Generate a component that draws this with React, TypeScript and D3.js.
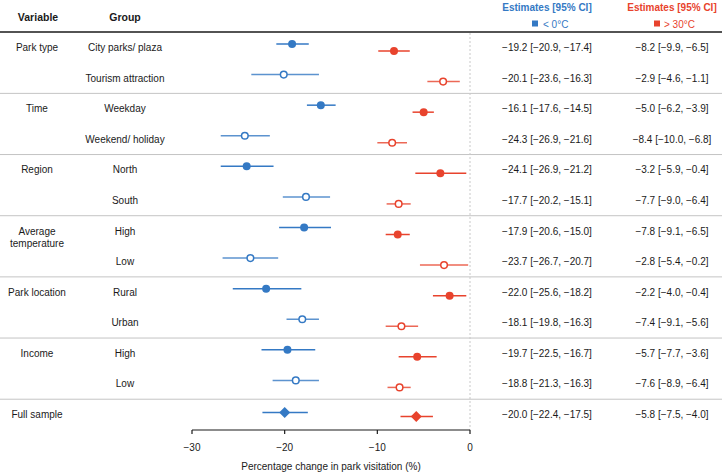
import React from "react";
import * as d3 from "d3";

const variables = ["Park type", "Time", "Region", "Average\ntemperature", "Park location", "Income", "Full sample"];
const groups = [
  "City parks/ plaza", "Tourism attraction",
  "Weekday", "Weekend/ holiday",
  "North", "South",
  "High", "Low",
  "Rural", "Urban",
  "High", "Low",
  "",
];
const coldEst = [-19.2, -20.1, -16.1, -24.3, -24.1, -17.7, -17.9, -23.7, -22.0, -18.1, -19.7, -18.8, -20.0];
const coldLo = [-20.9, -23.6, -17.6, -26.9, -26.9, -20.2, -20.6, -26.7, -25.6, -19.8, -22.5, -21.3, -22.4];
const coldHi = [-17.4, -16.3, -14.5, -21.6, -21.2, -15.1, -15.0, -20.7, -18.2, -16.3, -16.7, -16.3, -17.5];
const hotEst = [-8.2, -2.9, -5.0, -8.4, -3.2, -7.7, -7.8, -2.8, -2.2, -7.4, -5.7, -7.6, -5.8];
const hotLo = [-9.9, -4.6, -6.2, -10.0, -5.9, -9.0, -9.1, -5.4, -4.0, -9.1, -7.7, -8.9, -7.5];
const hotHi = [-6.5, -1.1, -3.9, -6.8, -0.4, -6.4, -6.5, -0.2, -0.4, -5.6, -3.6, -6.4, -4.0];
const xTicks = [-30, -20, -10, 0];

const BLUE = "#3479c4";
const RED = "#e8432d";
const FONT = "'Liberation Sans', Arial, Helvetica, sans-serif";

export default function App() {
  const W = 722, H = 472;
  const x = d3.scaleLinear().domain([-30, 0]).range([192, 470]);
  const rowY = d3.scaleLinear().domain([0, 12]).range([47.5, 414.5]);
  const axisY = 430;
  const fmt = (v: number) => d3.format(".1f")(v);
  const estText = (e: number, l: number, h: number) => `${fmt(e)} [${fmt(l)}, ${fmt(h)}]`;

  const marker = (cx: number, cy: number, color: string, i: number) => {
    if (i === 12) {
      const s = 5.5;
      return <path d={`M${cx},${cy - s}L${cx + s},${cy}L${cx},${cy + s}L${cx - s},${cy}Z`} fill={color} />;
    }
    if (i % 2 === 0) return <circle cx={cx} cy={cy} r={4} fill={color} />;
    return <circle cx={cx} cy={cy} r={3.3} fill="#fff" stroke={color} strokeWidth={1.5} />;
  };

  return (
    <svg width={W} height={H} style={{ position: "fixed", left: 0, top: 0, background: "#fff" }} fontFamily={FONT}>
      <rect width={W} height={H} fill="#fff" />
      {/* headers */}
      <text x={38} y={17} textAnchor="middle" dominantBaseline="central" fontSize={10.5} fontWeight="bold" fill="#1a1a1a">Variable</text>
      <text x={125} y={17} textAnchor="middle" dominantBaseline="central" fontSize={10.5} fontWeight="bold" fill="#1a1a1a">Group</text>
      <text x={547} y={7} textAnchor="middle" dominantBaseline="central" fontSize={10} fontWeight="bold" fill={BLUE}>Estimates [95% CI]</text>
      <text x={672} y={7} textAnchor="middle" dominantBaseline="central" fontSize={10} fontWeight="bold" fill={RED}>Estimates [95% CI]</text>
      <rect x={532} y={20.5} width={6} height={6} fill={BLUE} />
      <text x={543} y={24} dominantBaseline="central" fontSize={10} fill={BLUE}>{"< 0°C"}</text>
      <rect x={654} y={20.5} width={6} height={6} fill={RED} />
      <text x={664} y={24} dominantBaseline="central" fontSize={10} fill={RED}>{"> 30°C"}</text>
      <line x1={0} x2={W} y1={32} y2={32} stroke="#1a1a1a" strokeWidth={1.3} />
      {/* separators */}
      {d3.range(6).map((k) => {
        const y = rowY(2 * k + 1.5);
        return <line key={k} x1={0} x2={W} y1={y} y2={y} stroke="#c4c4c4" strokeWidth={1} />;
      })}
      {/* zero line */}
      <line x1={x(0)} x2={x(0)} y1={33} y2={axisY} stroke="#c8c8c8" strokeWidth={1} strokeDasharray="2,2" />
      {/* variable labels */}
      {variables.map((v, k) => {
        const y = rowY(2 * k);
        const lines = v.split("\n");
        return (
          <text key={k} x={37} y={y} textAnchor="middle" fontSize={10} fill="#1a1a1a">
            {lines.map((ln, j) => (
              <tspan key={j} x={37} y={y + j * 12} dominantBaseline="central">{ln}</tspan>
            ))}
          </text>
        );
      })}
      {/* group labels + marks + estimates */}
      {groups.map((g, i) => {
        const c = rowY(i);
        const off = i === 12 ? 2 : 3.5;
        const yb = c - off, yr = c + off;
        const op = i % 2 === 1 ? 0.8 : 1;
        return (
          <g key={i}>
            {g && <text x={125} y={c} textAnchor="middle" dominantBaseline="central" fontSize={10} fill="#1a1a1a">{g}</text>}
            <line x1={x(coldLo[i])} x2={x(coldHi[i])} y1={yb} y2={yb} stroke={BLUE} strokeWidth={1.5} opacity={op} />
            {marker(x(coldEst[i]), yb, BLUE, i)}
            <line x1={x(hotLo[i])} x2={x(hotHi[i])} y1={yr} y2={yr} stroke={RED} strokeWidth={1.5} opacity={op} />
            {marker(x(hotEst[i]), yr, RED, i)}
            <text x={547} y={c} textAnchor="middle" dominantBaseline="central" fontSize={10} fill="#1a1a1a">{estText(coldEst[i], coldLo[i], coldHi[i])}</text>
            <text x={672} y={c} textAnchor="middle" dominantBaseline="central" fontSize={10} fill="#1a1a1a">{estText(hotEst[i], hotLo[i], hotHi[i])}</text>
          </g>
        );
      })}
      {/* x axis */}
      <line x1={x(-30)} x2={x(0)} y1={axisY} y2={axisY} stroke="#1a1a1a" strokeWidth={1.2} />
      {xTicks.map((t) => (
        <g key={t}>
          <line x1={x(t)} x2={x(t)} y1={axisY} y2={axisY + 4} stroke="#1a1a1a" strokeWidth={1.2} />
          <text x={x(t)} y={axisY + 17} textAnchor="middle" dominantBaseline="central" fontSize={10} fill="#1a1a1a">{d3.format("")(t)}</text>
        </g>
      ))}
      <text x={331} y={466} textAnchor="middle" dominantBaseline="central" fontSize={10} fill="#1a1a1a">Percentage change in park visitation (%)</text>
    </svg>
  );
}
